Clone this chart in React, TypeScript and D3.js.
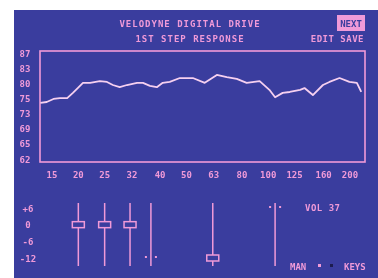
import React from "react";
import * as d3 from "d3";

// frequency response trace (Hz, dB)
const respFreq = [14.5, 15.3, 16.2, 17.1, 18.2, 19.1, 19.9, 20.8, 22.1, 24.0, 25.5, 26.8, 28.4, 30.2, 32.9, 34.6, 36.7, 38.9, 40.9, 43.4, 47.3, 52.8, 58.4, 64.7, 70.4, 76.6, 83.3, 93.0, 101, 106, 113, 120, 131, 136, 146, 159, 168, 183, 199, 212, 220];
const respDb = [75.1, 75.3, 76.0, 76.2, 76.2, 77.4, 78.5, 79.7, 79.7, 80.1, 79.9, 79.2, 78.7, 79.2, 79.7, 79.7, 79.0, 78.7, 79.7, 79.9, 80.8, 80.8, 79.7, 81.5, 81.0, 80.6, 79.7, 80.1, 78.1, 76.4, 77.4, 77.6, 78.1, 78.5, 76.9, 79.2, 79.9, 80.8, 79.9, 79.7, 77.6];

const xTickFreq = [16, 20, 25, 31.5, 40, 50, 63, 80, 100, 125, 160, 200];
const xTickLabels = ["15", "20", "25", "32", "40", "50", "63", "80", "100", "125", "160", "200"];
const yTickLabels = ["87", "83", "80", "75", "73", "69", "65", "62"];

// EQ sliders (Hz, gain dB)
const sliderFreq = [20, 25, 31, 37, 62.5, 106];
const sliderGain = [0, 0, 0, -12, -12, 6];
const sliderShown = [true, true, true, false, true, false];
const gainTicks = [6, 0, -6, -12];
const gainLabels = ["+6", "0", "-6", "-12"];

const BG = "#3a3d9e";
const PINK = "#f09ad8";
const LINE = "#f6d0f0";
const FONT = "'DejaVu Sans Mono', monospace";

export default function App() {
  const x = d3.scaleLog().domain([16, 200]).range([52, 350]);
  const y = d3.scaleLinear().domain([62, 87]).range([160, 51]);
  const yLab = d3.scalePoint<string>().domain(yTickLabels).range([53, 159]);
  const g = d3.scaleLinear().domain([-12, 6]).range([258, 208]);

  const pts = respFreq.map((f, i) => [x(f), y(respDb[i])] as [number, number]);
  const line = d3.line().curve(d3.curveLinear)(pts) || "";

  const txt = { fontFamily: FONT, fontWeight: 700, fill: PINK } as const;

  return (
    <svg width={378} height={278} style={{ position: "absolute", left: 0, top: 0, background: "#fff" }}>
      <defs>
        <filter id="soft" x="-5%" y="-5%" width="110%" height="110%">
          <feGaussianBlur stdDeviation="0.55" />
        </filter>
      </defs>
      <rect x={14} y={10} width={364} height={268} fill={BG} />
      <g filter="url(#soft)">
        <text x={190} y={27} textAnchor="middle" fontSize={9} letterSpacing={1} {...txt}>
          VELODYNE DIGITAL DRIVE
        </text>
        <text x={190} y={42} textAnchor="middle" fontSize={9} letterSpacing={1} {...txt}>
          1ST STEP RESPONSE
        </text>
        <rect x={337} y={15} width={28} height={16} fill={PINK} />
        <text x={351} y={27} textAnchor="middle" fontSize={9} {...txt} fill={BG}>
          NEXT
        </text>
        <text x={364} y={42} textAnchor="end" fontSize={9} letterSpacing={0.5} {...txt}>
          EDIT SAVE
        </text>

        {/* plot frame */}
        <rect x={40} y={51} width={325} height={111} fill="none" stroke={PINK} strokeWidth={1.6} />
        {yTickLabels.map((l) => (
          <text key={l} x={25} y={(yLab(l) || 0) + 3.5} textAnchor="middle" fontSize={9} {...txt}>
            {l}
          </text>
        ))}
        {xTickFreq.map((f, i) => (
          <text key={f} x={x(f)} y={178} textAnchor="middle" fontSize={9} {...txt}>
            {xTickLabels[i]}
          </text>
        ))}
        <path d={line} fill="none" stroke={LINE} strokeWidth={1.8} strokeLinejoin="round" />

        {/* gain scale */}
        {gainTicks.map((v, i) => (
          <text key={v} x={28} y={g(v) + 3.5} textAnchor="middle" fontSize={9} {...txt}>
            {gainLabels[i]}
          </text>
        ))}
        {sliderFreq.map((f, i) => (
          <g key={f}>
            <line x1={x(f)} x2={x(f)} y1={g(6) - 5} y2={g(-12) + 8} stroke={PINK} strokeWidth={1.5} />
            {sliderShown[i] ? (
              <rect x={x(f) - 6} y={g(sliderGain[i]) - 3} width={12} height={6} fill={BG} stroke={PINK} strokeWidth={1.5} />
            ) : (
              <g fill={PINK}>
                <rect x={x(f) - 6} y={g(sliderGain[i]) - 2} width={2} height={2} />
                <rect x={x(f) + 4} y={g(sliderGain[i]) - 2} width={2} height={2} />
              </g>
            )}
          </g>
        ))}

        <text x={305} y={211} fontSize={9} letterSpacing={0.5} {...txt}>
          VOL 37
        </text>
        <text x={290} y={270} fontSize={9} {...txt}>
          MAN
        </text>
        <rect x={318} y={264} width={3} height={3} fill={PINK} />
        <rect x={330} y={264} width={3} height={3} fill="#1a1a50" />
        <text x={344} y={270} fontSize={9} {...txt}>
          KEYS
        </text>
      </g>
    </svg>
  );
}
